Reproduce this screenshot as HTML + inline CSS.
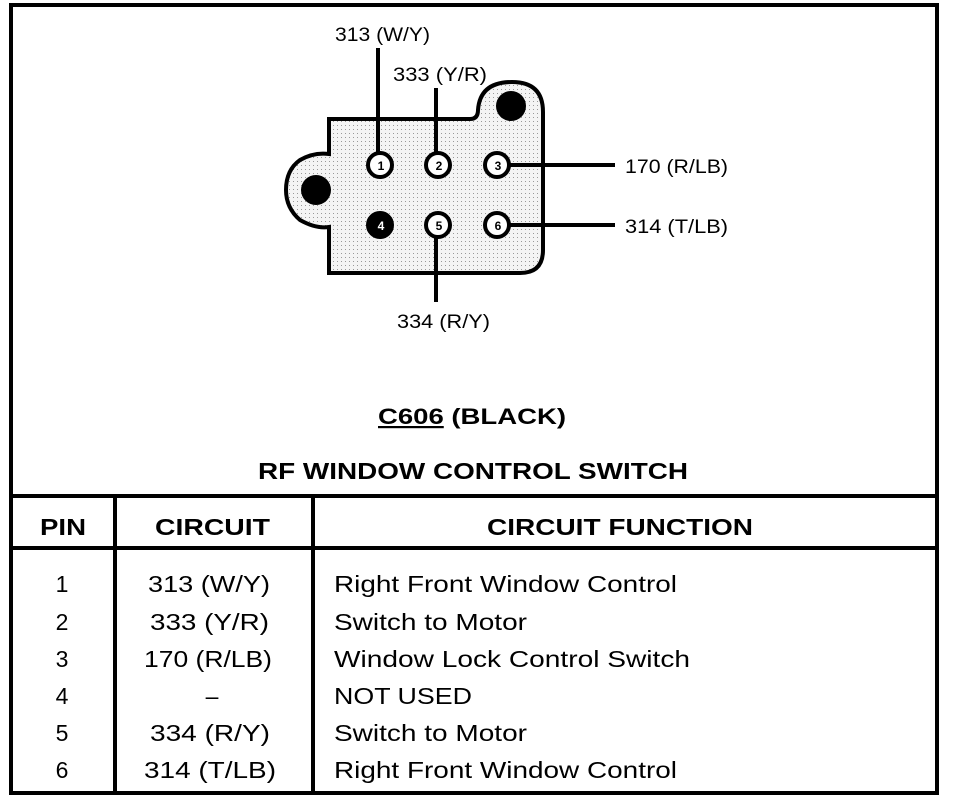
<!DOCTYPE html>
<html><head><style>
body{margin:0;background:#fff;width:960px;height:802px;overflow:hidden;font-family:"Liberation Sans",sans-serif;}
svg{position:absolute;left:0;top:0}
</style></head><body>
<svg width="960" height="802" viewBox="0 0 960 802">
<defs><pattern id="dots" width="4" height="4" patternUnits="userSpaceOnUse"><rect width="4" height="4" fill="#f4f4f4"/><rect x="1" y="1" width="1" height="1" fill="#999"/></pattern></defs>
<rect x="11" y="5" width="926" height="788" fill="none" stroke="#000" stroke-width="4"/>
<line x1="11" y1="496" x2="937" y2="496" stroke="#000" stroke-width="4"/>
<line x1="11" y1="548" x2="937" y2="548" stroke="#000" stroke-width="4"/>
<line x1="115" y1="496" x2="115" y2="793" stroke="#000" stroke-width="4"/>
<line x1="313" y1="496" x2="313" y2="793" stroke="#000" stroke-width="4"/>
<path d="M329,119 L470,119 Q478,119 478,110 Q480,82 512,82 Q543,82 543,112 L543,250 Q543,273 520,273 L329,273 L329,227 Q316,229 300,220 Q286,208 286,190 Q286,170 300,160 Q314,152 329,154 Z" fill="url(#dots)" stroke="#000" stroke-width="4"/>
<circle cx="316" cy="190" r="15" fill="#000"/>
<circle cx="511" cy="106" r="15" fill="#000"/>
<g stroke="#000" stroke-width="4">
<line x1="378" y1="48" x2="378" y2="153"/>
<line x1="436" y1="88" x2="436" y2="153"/>
<line x1="509" y1="165" x2="615" y2="165"/>
<line x1="509" y1="225" x2="615" y2="225"/>
<line x1="436" y1="237" x2="436" y2="302"/>
</g>
<g fill="#fff" stroke="#000" stroke-width="4">
<circle cx="380" cy="165" r="12"/><circle cx="438" cy="165" r="12"/><circle cx="497" cy="165" r="12"/>
<circle cx="380" cy="225" r="12" fill="#000"/><circle cx="438" cy="225" r="12"/><circle cx="497" cy="225" r="12"/>
</g>
<g font-size="12" font-weight="bold" text-anchor="middle" font-family="Liberation Sans,sans-serif">
<text x="381" y="170">1</text><text x="439" y="170">2</text><text x="498" y="170">3</text>
<text x="381" y="230" fill="#fff">4</text><text x="439" y="230">5</text><text x="498" y="230">6</text>
</g>
<g font-size="19" font-family="Liberation Sans,sans-serif" lengthAdjust="spacingAndGlyphs">
<text x="335" y="41" textLength="95" lengthAdjust="spacingAndGlyphs">313 (W/Y)</text>
<text x="393" y="81" textLength="94" lengthAdjust="spacingAndGlyphs">333 (Y/R)</text>
<text x="625" y="173" textLength="103" lengthAdjust="spacingAndGlyphs">170 (R/LB)</text>
<text x="625" y="233" textLength="103" lengthAdjust="spacingAndGlyphs">314 (T/LB)</text>
<text x="397" y="328" textLength="93" lengthAdjust="spacingAndGlyphs">334 (R/Y)</text>
</g>
<g font-weight="bold" font-family="Liberation Sans,sans-serif">
<text x="378" y="424" font-size="22" textLength="188" lengthAdjust="spacingAndGlyphs"><tspan text-decoration="underline">C606</tspan> (BLACK)</text>
<text x="258" y="479" font-size="23" textLength="430" lengthAdjust="spacingAndGlyphs">RF WINDOW CONTROL SWITCH</text>
<text x="40" y="535" font-size="23" textLength="46" lengthAdjust="spacingAndGlyphs">PIN</text>
<text x="155" y="535" font-size="23" textLength="115" lengthAdjust="spacingAndGlyphs">CIRCUIT</text>
<text x="487" y="535" font-size="23" textLength="266" lengthAdjust="spacingAndGlyphs">CIRCUIT FUNCTION</text>
</g>
<g font-size="23" font-family="Liberation Sans,sans-serif">
<g text-anchor="middle">
<text x="62" y="592">1</text><text x="62" y="630">2</text><text x="62" y="667">3</text><text x="62" y="704">4</text><text x="62" y="741">5</text><text x="62" y="778">6</text>
<text x="212" y="704">–</text>
</g>
<text x="148" y="592" textLength="122" lengthAdjust="spacingAndGlyphs">313 (W/Y)</text>
<text x="150" y="630" textLength="119" lengthAdjust="spacingAndGlyphs">333 (Y/R)</text>
<text x="144" y="667" textLength="128" lengthAdjust="spacingAndGlyphs">170 (R/LB)</text>
<text x="150" y="741" textLength="120" lengthAdjust="spacingAndGlyphs">334 (R/Y)</text>
<text x="144" y="778" textLength="132" lengthAdjust="spacingAndGlyphs">314 (T/LB)</text>
<text x="334" y="592" textLength="343" lengthAdjust="spacingAndGlyphs">Right Front Window Control</text>
<text x="334" y="630" textLength="193" lengthAdjust="spacingAndGlyphs">Switch to Motor</text>
<text x="334" y="667" textLength="356" lengthAdjust="spacingAndGlyphs">Window Lock Control Switch</text>
<text x="334" y="704" textLength="138" lengthAdjust="spacingAndGlyphs">NOT USED</text>
<text x="334" y="741" textLength="193" lengthAdjust="spacingAndGlyphs">Switch to Motor</text>
<text x="334" y="778" textLength="343" lengthAdjust="spacingAndGlyphs">Right Front Window Control</text>
</g>
</svg>
</body></html>
